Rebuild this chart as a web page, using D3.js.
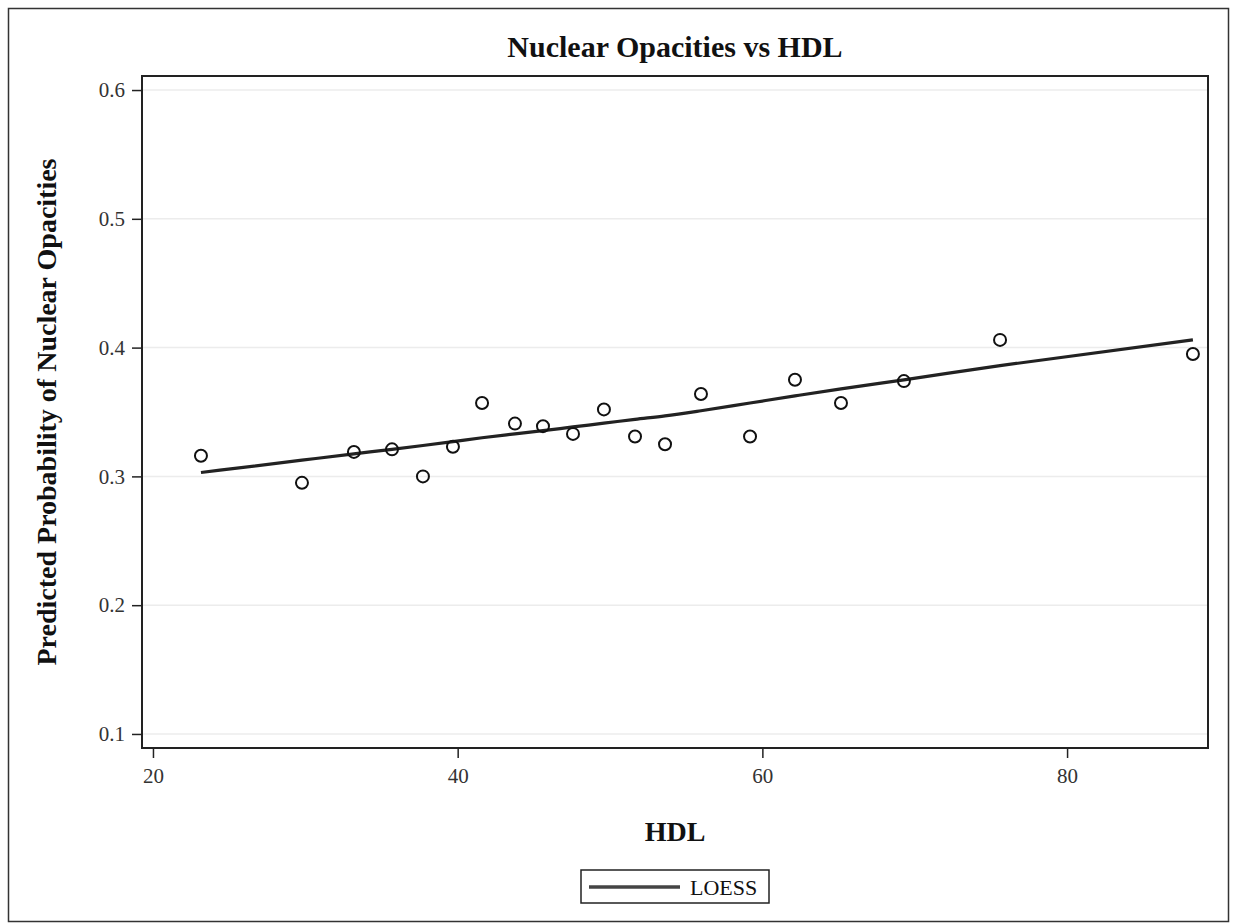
<!DOCTYPE html>
<html>
<head>
<meta charset="utf-8">
<script src="https://cdn.jsdelivr.net/npm/d3@7"></script>
<style>
  body { margin: 0; background: #fff; }
  svg { display: block; }
</style>
</head>
<body>
<div id="chart"></div>
<script>
// Data
var hdl = [23.15, 29.78, 33.19, 35.69, 37.72, 39.69, 41.60, 43.76, 45.60, 47.57,
           49.60, 51.64, 53.61, 55.97, 59.19, 62.14, 65.16, 69.29, 75.60, 88.26];
var predicted = [0.316, 0.295, 0.319, 0.321, 0.300, 0.323, 0.357, 0.341, 0.339, 0.333,
                 0.352, 0.331, 0.325, 0.364, 0.331, 0.375, 0.357, 0.374, 0.406, 0.395];
var loess = [0.303, 0.3126, 0.3175, 0.321, 0.324, 0.327, 0.330, 0.333, 0.3355, 0.3384,
             0.3413, 0.3443, 0.347, 0.351, 0.357, 0.3625, 0.368, 0.375, 0.386, 0.406];
var xTicks = [20, 40, 60, 80];
var yTicks = [0.1, 0.2, 0.3, 0.4, 0.5, 0.6];

var W = 1233, H = 923;
var margin = {top: 76, right: 25, bottom: 175, left: 142};
var width = W - margin.left - margin.right,   // 1066
    height = H - margin.top - margin.bottom;  // 672

var serif = "'Liberation Serif', 'Times New Roman', serif";

var svg = d3.select("#chart")
  .append("svg")
    .attr("width", W)
    .attr("height", H);

// outer frame
svg.append("rect")
  .attr("x", 8.5).attr("y", 8.5)
  .attr("width", 1220).attr("height", 913)
  .attr("fill", "none")
  .attr("stroke", "#333")
  .attr("stroke-width", 1.5);

var g = svg.append("g")
  .attr("transform", "translate(" + margin.left + "," + margin.top + ")");

var x = d3.scaleLinear()
  .domain([19.28, 89.25])
  .range([0, width]);

var y = d3.scaleLinear()
  .domain([0.0891, 0.6109])
  .range([height, 0]);

// gridlines
g.append("g")
  .selectAll("line")
  .data(yTicks)
  .join("line")
    .attr("x1", 0).attr("x2", width)
    .attr("y1", function(d) { return y(d); })
    .attr("y2", function(d) { return y(d); })
    .attr("stroke", "#ececec")
    .attr("stroke-width", 1.5);

// Add X axis
var xAxis = g.append("g")
  .attr("transform", "translate(0," + height + ")")
  .call(d3.axisBottom(x).tickValues(xTicks).tickSize(10).tickPadding(10).tickSizeOuter(0));
xAxis.select(".domain").remove();
xAxis.selectAll("line").attr("stroke", "#222").attr("stroke-width", 1.5);
xAxis.selectAll("text")
  .style("font-family", serif)
  .style("font-size", "21px")
  .attr("fill", "#333");

// Add Y axis
var yAxis = g.append("g")
  .call(d3.axisLeft(y).tickValues(yTicks).tickFormat(d3.format(".1f")).tickSize(10).tickPadding(7).tickSizeOuter(0));
yAxis.select(".domain").remove();
yAxis.selectAll("line").attr("stroke", "#222").attr("stroke-width", 1.5);
yAxis.selectAll("text")
  .style("font-family", serif)
  .style("font-size", "21px")
  .attr("fill", "#333");

// plot frame
g.append("rect")
  .attr("x", 0).attr("y", 0)
  .attr("width", width).attr("height", height)
  .attr("fill", "none")
  .attr("stroke", "#222")
  .attr("stroke-width", 2);

// LOESS line
var pts = hdl.map(function(d, i) { return {x: d, p: predicted[i], l: loess[i]}; });
g.append("path")
  .datum(pts)
  .attr("fill", "none")
  .attr("stroke", "#222")
  .attr("stroke-width", 3.2)
  .attr("d", d3.line()
    .curve(d3.curveMonotoneX)
    .x(function(d) { return x(d.x); })
    .y(function(d) { return y(d.l); }));

// points
g.append("g")
  .selectAll("circle")
  .data(pts)
  .join("circle")
    .attr("cx", function(d) { return x(d.x); })
    .attr("cy", function(d) { return y(d.p); })
    .attr("r", 6)
    .attr("fill", "none")
    .attr("stroke", "#111")
    .attr("stroke-width", 2);

// Title
svg.append("text")
  .attr("x", margin.left + width / 2)
  .attr("y", 57)
  .attr("text-anchor", "middle")
  .style("font-family", serif)
  .style("font-weight", "bold")
  .style("font-size", "30px")
  .attr("fill", "#111")
  .text("Nuclear Opacities vs HDL");

// X axis label
svg.append("text")
  .attr("x", margin.left + width / 2)
  .attr("y", 841)
  .attr("text-anchor", "middle")
  .style("font-family", serif)
  .style("font-weight", "bold")
  .style("font-size", "28px")
  .attr("fill", "#111")
  .text("HDL");

// Y axis label
svg.append("text")
  .attr("transform", "translate(56," + (margin.top + height / 2) + ") rotate(-90)")
  .attr("text-anchor", "middle")
  .style("font-family", serif)
  .style("font-weight", "bold")
  .style("font-size", "28px")
  .attr("fill", "#111")
  .text("Predicted Probability of Nuclear Opacities");

// Legend
var legend = svg.append("g").attr("transform", "translate(581,870)");
legend.append("rect")
  .attr("width", 188).attr("height", 33)
  .attr("fill", "#fff")
  .attr("stroke", "#222")
  .attr("stroke-width", 1.5);
legend.append("line")
  .attr("x1", 8).attr("x2", 99)
  .attr("y1", 17).attr("y2", 17)
  .attr("stroke", "#444")
  .attr("stroke-width", 3.5);
legend.append("text")
  .attr("x", 109).attr("y", 25)
  .style("font-family", serif)
  .style("font-size", "22px")
  .attr("fill", "#111")
  .text("LOESS");
</script>
</body>
</html>
